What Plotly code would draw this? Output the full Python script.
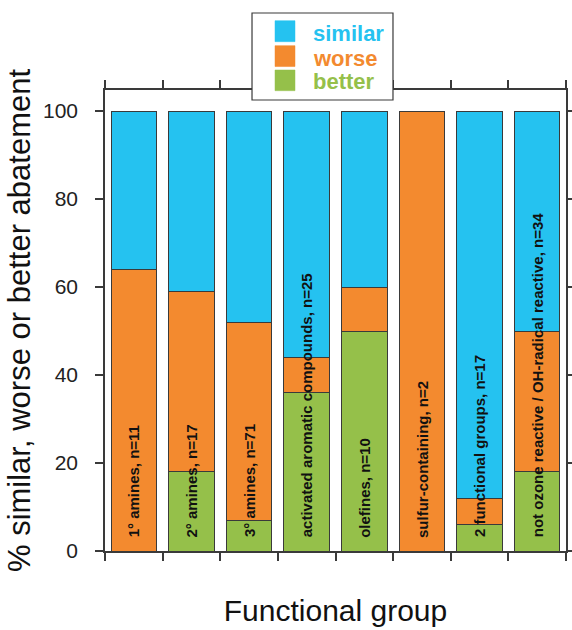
import plotly.graph_objects as go

# ---- data ----
categories = [
    "1° amines, n=11",
    "2° amines, n=17",
    "3° amines, n=71",
    "activated aromatic compounds, n=25",
    "olefines, n=10",
    "sulfur-containing, n=2",
    "2 functional groups, n=17",
    "not ozone reactive / OH-radical reactive, n=34",
]
better = [0, 18, 7, 36, 50, 0, 6, 18]
worse = [64, 41, 45, 8, 10, 100, 6, 32]
similar = [36, 41, 48, 56, 40, 0, 88, 50]
series_names = ["similar", "worse", "better"]
y_ticks = [0, 20, 40, 60, 80, 100]

# ---- styles ----
C_SIM = "#25C2F0"
C_WOR = "#F38A2F"
C_BET = "#95C04A"
EDGE = "#3a3a3a"
FONT = "Liberation Sans, Arial, Helvetica, sans-serif"

fig = go.Figure()
for name, vals, col in [("better", better, C_BET), ("worse", worse, C_WOR), ("similar", similar, C_SIM)]:
    fig.add_trace(go.Bar(
        x=categories, y=vals, name=name, width=0.79,
        marker=dict(color=col, line=dict(color=EDGE, width=1)),
        showlegend=False,
    ))

# category labels inside bars
for cat in categories:
    fig.add_annotation(
        x=cat, y=2.6, xref="x", yref="y", text="<b>%s</b>" % cat,
        textangle=-90, showarrow=False, xanchor="center", yanchor="bottom",
        font=dict(family=FONT, size=15, color="#111111"),
    )

fig.update_layout(
    width=572, height=630,
    margin=dict(l=105, r=6, t=90, b=79, autoexpand=False),
    barmode="stack",
    bargap=0.21,
    plot_bgcolor="white", paper_bgcolor="white",
    font=dict(family=FONT, color="#111111"),
)
fig.update_xaxes(
    type="category", range=[-0.5, 7.5], tickson="boundaries", automargin=False,
    showticklabels=False, ticks="outside", ticklen=8, tickwidth=1.5, tickcolor=EDGE,
    showline=True, linecolor=EDGE, linewidth=1.5, mirror="allticks",
    showgrid=False, zeroline=False,
    title=dict(text="Functional group", font=dict(size=30, family=FONT, color="#111111"), standoff=48),
)
fig.update_yaxes(
    range=[0, 104.8], tickvals=y_ticks, ticks="outside", ticklen=8, tickwidth=1.5, tickcolor=EDGE,
    showline=True, linecolor=EDGE, linewidth=1.5, mirror="allticks", automargin=False,
    showgrid=False, zeroline=False,
    tickfont=dict(size=21, family=FONT, color="#222222"), ticklabelstandoff=13,
    title=dict(text="% similar, worse or better abatement", font=dict(size=31, family=FONT, color="#111111"), standoff=3),
)

# legend box (manual, to match swatch sizes)
fig.add_shape(type="rect", xref="paper", yref="paper", x0=0.3189, x1=0.6247, y0=0.9783, y1=1.167,
              fillcolor="white", line=dict(color=EDGE, width=1.2), layer="above")
leg_cols = [C_SIM, C_WOR, C_BET]
sw_y = [(1.1048, 1.1503), (1.0509, 1.0961), (0.9985, 1.0434)]
txt_y = [1.1236, 1.0694, 1.0195]
for name, col, (ya, yb), ty in zip(series_names, leg_cols, sw_y, txt_y):
    fig.add_shape(type="rect", xref="paper", yref="paper", x0=0.3688, x1=0.4121, y0=ya, y1=yb,
                  fillcolor=col, line=dict(color=col, width=0.5), layer="above")
    fig.add_annotation(x=0.4469, y=ty, xref="paper", yref="paper", text="<b>%s</b>" % name,
                       showarrow=False, xanchor="left", yanchor="middle",
                       font=dict(family=FONT, size=22, color=col))

fig.write_html("out.html")
